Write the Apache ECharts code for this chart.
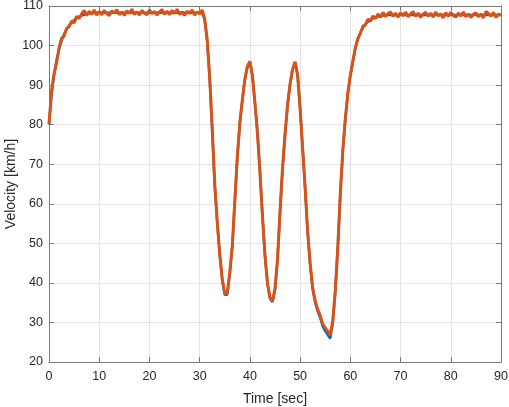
<!DOCTYPE html>
<html><head><meta charset="utf-8">
<script src="https://cdn.jsdelivr.net/npm/echarts@6/dist/echarts.min.js"></script>
<style>html,body{margin:0;padding:0;background:#fff}#c{width:509px;height:407px}</style>
</head><body><div id="c"></div>
<script>
// x ticks and y ticks
const xTicks = [0,10,20,30,40,50,60,70,80,90];
const yTicks = [20,30,40,50,60,70,80,90,100,110];

// measured (orange) series, sampled every 0.5 s from t = 0 to 90
const measStep = 0.5;
const measured = [
  80.2, 88.5, 92.8, 95.6, 99.4, 101.8, 102.4, 104.3, 104.8, 106.2,   // 0 - 4.5
  105.7, 107.4, 106.8, 108.0, 108.9, 107.6, 108.7, 107.9, 109.0, 107.7, // 5 - 9.5
  108.6, 107.8, 108.9, 108.1, 107.6, 108.8, 108.2, 109.1, 107.8, 108.5, // 10 - 14.5
  107.6, 108.8, 108.1, 109.2, 107.9, 108.5, 107.7, 108.9, 108.2, 107.8, // 15 - 19.5
  109.0, 108.1, 108.6, 107.7, 108.5, 109.1, 107.9, 108.7, 107.8, 108.9, // 20 - 24.5
  108.1, 109.2, 107.9, 108.5, 107.6, 108.7, 108.1, 109.0, 107.7, 108.5, // 25 - 29.5
  108.0, 109.0, 106.8, 101.5, 92.0, 79.0, 65.0, 55.5, 47.3, 41.0,       // 30 - 34.5
  37.2, 37.6, 42.8, 49.5, 60.8, 72.0, 80.5, 86.3, 91.5, 94.8,           // 35 - 39.5
  96.0, 92.5, 85.5, 78.0, 68.0, 57.0, 47.0, 40.0, 36.3, 35.5,           // 40 - 44.5
  38.5, 46.0, 58.0, 69.0, 77.6, 85.0, 90.3, 94.0, 95.9, 92.5,           // 45 - 49.5
  84.0, 74.0, 64.0, 53.0, 45.0, 38.8, 35.5, 33.3, 31.8, 29.6,           // 50 - 54.5
  28.6, 27.8, 26.8, 30.5, 38.0, 49.0, 62.5, 73.5, 81.5, 88.0,           // 55 - 59.5
  92.5, 96.0, 99.5, 101.8, 103.1, 104.9, 105.2, 106.7, 106.1, 107.5,    // 60 - 64.5
  106.8, 108.0, 107.1, 108.4, 107.3, 108.1, 108.5, 107.4, 108.2, 107.2, // 65 - 69.5
  108.3, 107.5, 108.5, 107.3, 108.0, 108.6, 107.4, 108.2, 107.1, 108.0, // 70 - 74.5
  108.4, 107.4, 108.2, 107.2, 108.5, 107.5, 108.0, 107.0, 108.3, 107.4, // 75 - 79.5
  108.4, 107.6, 107.2, 108.2, 107.5, 108.5, 107.3, 108.0, 107.1, 107.9, // 80 - 84.5
  108.3, 107.3, 108.0, 107.0, 108.6, 108.1, 107.4, 108.4, 107.1, 108.0, // 85 - 89.5
  107.6                                                                 // 90
];

// reference (blue) series: times and values
const refTime = [
  0,0.5,1,1.5,2,2.5,3,3.5,4,4.5,5,5.5,6,6.5,7,7.5,8,8.5,9,9.5,
  30.5,31,31.5,32,32.5,33,33.5,34,34.5,35,35.5,36,36.5,37,37.5,38,38.5,39,39.5,
  40,40.5,41,41.5,42,42.5,43,43.5,44,44.5,45,45.5,46,46.5,47,47.5,48,48.5,49,49.5,
  50,50.5,51,51.5,52,52.5,53,53.5,54,54.5,55,55.5,56,56.5,57,57.5,58,58.5,59,59.5,
  60,60.5,61,61.5,62,62.5,63,63.5,64,64.5,65,65.5,66,66.5,67,90
];
const refValue = [
  80.0,87.5,92.5,96.2,99.0,101.2,102.9,104.1,105.1,105.8,106.4,106.9,107.3,107.6,107.8,108.0,108.1,108.2,108.2,108.3,
  108.3,106.5,101.0,91.5,78.5,64.8,55.2,47.0,40.6,37.0,37.0,42.2,49.2,60.5,71.8,80.3,86.2,91.4,94.6,
  95.8,92.4,85.6,78.2,68.2,57.2,47.0,39.8,36.0,35.2,38.2,45.8,57.8,68.8,77.5,84.9,90.2,93.9,95.7,92.6,
  84.2,74.2,64.0,52.8,44.6,38.4,35.0,32.8,31.2,29.0,27.8,26.9,25.9,29.8,37.5,48.6,62.0,73.2,81.3,87.8,
  92.4,95.9,99.3,101.6,103.2,104.5,105.4,106.0,106.5,106.9,107.1,107.3,107.5,107.6,107.7,107.7
];

const xTitle = 'Time [sec]';
const yTitle = 'Velocity [km/h]';

const refData = refTime.map((t, i) => [t, refValue[i]]);
const measData = measured.map((v, i) => [i * measStep, v]);

const axisGray = '#7a7a7a';
const txt = '#262626';
const font = "'Liberation Sans'";

const chart = echarts.init(document.getElementById('c'), null, {renderer: 'canvas'});
chart.setOption({
  animation: false,
  backgroundColor: '#fff',
  grid: {left: 49, right: 8, top: 6, bottom: 45, containLabel: false, outerBoundsMode: 'none'},
  xAxis: [{
    type: 'value', min: xTicks[0], max: xTicks[xTicks.length-1], interval: 10,
    name: xTitle, nameLocation: 'middle', nameGap: 30, nameMoveOverlap: false,
    nameTextStyle: {color: txt, fontSize: 14, fontFamily: font},
    axisLine: {show: true, onZero: false, lineStyle: {color: axisGray, width: 1}},
    axisTick: {show: true, inside: true, length: 5, lineStyle: {color: axisGray}},
    axisLabel: {color: txt, fontSize: 12.5, fontFamily: font, margin: 8},
    splitLine: {show: true, lineStyle: {color: '#e3e3e3', width: 1}}
  }, {
    type: 'value', position: 'top', min: xTicks[0], max: xTicks[xTicks.length-1], interval: 10,
    axisLine: {show: true, onZero: false, lineStyle: {color: axisGray, width: 1}},
    axisTick: {show: true, inside: true, length: 5, lineStyle: {color: axisGray}},
    axisLabel: {show: false}, splitLine: {show: false}
  }],
  yAxis: [{
    type: 'value', min: yTicks[0], max: yTicks[yTicks.length-1], interval: 10,
    name: yTitle, nameLocation: 'middle', nameGap: 31, nameMoveOverlap: false,
    nameTextStyle: {color: txt, fontSize: 14, fontFamily: font},
    axisLine: {show: true, onZero: false, lineStyle: {color: axisGray, width: 1}},
    axisTick: {show: true, inside: true, length: 5, lineStyle: {color: axisGray}},
    axisLabel: {color: txt, fontSize: 12.5, fontFamily: font, margin: 6},
    splitLine: {show: true, lineStyle: {color: '#e3e3e3', width: 1}}
  }, {
    type: 'value', position: 'right', min: yTicks[0], max: yTicks[yTicks.length-1], interval: 10,
    axisLine: {show: true, onZero: false, lineStyle: {color: axisGray, width: 1}},
    axisTick: {show: true, inside: true, length: 5, lineStyle: {color: axisGray}},
    axisLabel: {show: false}, splitLine: {show: false}
  }],
  series: [{
    type: 'line', data: refData, showSymbol: false, symbol: 'none',
    lineStyle: {color: '#0072BD', width: 2.5}, z: 2
  }, {
    type: 'line', data: measData, showSymbol: false, symbol: 'none',
    lineStyle: {color: '#D95319', width: 3}, z: 3
  }]
});
</script>
</body></html>
